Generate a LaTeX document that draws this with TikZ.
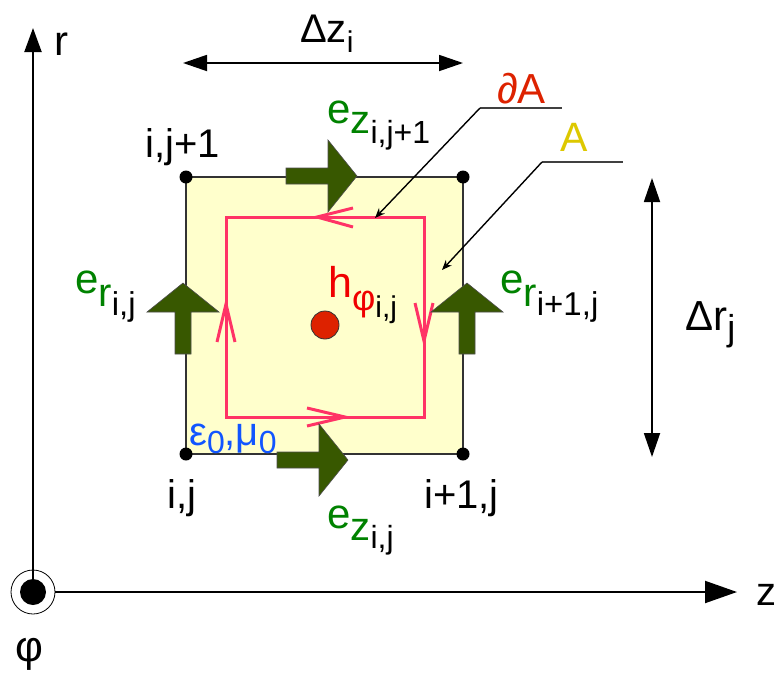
\documentclass[tikz,border=0pt]{standalone}
\usepackage{fontspec}
\setmainfont{Liberation Sans}
\usetikzlibrary{arrows.meta}
\definecolor{gfill}{RGB}{56,88,0}
\definecolor{glab}{RGB}{0,130,0}
\definecolor{loopc}{RGB}{255,51,102}
\definecolor{areay}{RGB}{255,255,204}
\definecolor{dred}{RGB}{221,34,0}
\definecolor{hred}{RGB}{240,0,0}
\definecolor{eblue}{RGB}{17,85,255}
\definecolor{ayel}{RGB}{221,200,0}
\newcommand\fs[1]{\fontsize{#1}{#1}\selectfont}
\newcommand\blockarr[3]{%
  \path[blk, shift={(#1,#2)}, rotate=#3] (0,0) -- (-29,-36) -- (-29,-8) -- (-71,-8) -- (-71,8) -- (-29,8) -- (-29,36) -- cycle;}
\begin{document}
\begin{tikzpicture}[x=1pt,y=-1pt,
  lbl/.style={inner sep=0pt, anchor=base west, font=\fs{40}},
  vtx/.style={circle, fill=black, inner sep=0pt, minimum size=13pt},
  raxis/.style={line width=2pt, -{Triangle[length=24pt,width=17pt]}},
  zaxis/.style={line width=2pt, -{Triangle[length=32pt,width=22pt]}},
  dimarr/.style={line width=1.8pt, {Triangle[length=24pt,width=16pt]}-{Triangle[length=24pt,width=16pt]}},
  loopl/.style={draw=loopc, line width=3pt, line join=miter},
  blk/.style={fill=gfill, draw=black!70, line width=0.6pt},
  leader/.style={line width=1.4pt, -{Stealth[length=10pt,width=8pt]}},
  uline/.style={draw=black!75, line width=1.5pt}
]
\useasboundingbox (0,0) rectangle (776,672);

% cell area
\draw[fill=areay, draw=black!80, line width=1.2pt] (186,177) rectangle (463,454);

% contour dA
\draw[loopl] (226,217) rectangle (424,417);
\draw[loopl] (353,208) -- (317,217) -- (353,227);
\draw[loopl] (217,342) -- (226,304) -- (235,342);
\draw[loopl] (415,303) -- (424,341) -- (433,303);
\draw[loopl] (307,408) -- (345,417) -- (307,426);

% block arrows (e field)
\blockarr{357}{176}{0}
\blockarr{348}{460}{0}
\blockarr{183}{283}{90}
\blockarr{467}{283}{90}

% grid points
\node[vtx] (p00) at (186,454) {};
\node[vtx] (p10) at (463,454) {};
\node[vtx] (p01) at (186,177) {};
\node[vtx] (p11) at (463,177) {};

% h dot
\node[circle, fill=dred, draw=black!80, line width=0.8pt, minimum size=28pt, inner sep=0pt] (hdot) at (325,325) {};

% node labels
\node[lbl] (l01) at (145,157) {i,j+1};
\node[lbl] (l00) at (167,508) {i,j};
\node[lbl] (l10) at (424,508) {i+1,j};

% field labels
\node[lbl, text=glab] (ezt) at (327,123) {\fs{42}e\raisebox{-10pt}{\fs{40}z\raisebox{-10pt}{\fs{32}\color{black}i,j+1}}};
\node[lbl, text=glab] (ezb) at (327,528) {\fs{42}e\raisebox{-12pt}{\fs{40}z\raisebox{-8pt}{\fs{32}\color{black}i,j}}};
\node[lbl, text=glab] (erl) at (75,293) {\fs{42}e\raisebox{-13pt}{\fs{40}r\raisebox{-9pt}{\fs{33}\color{black}i,j}}};
\node[lbl, text=glab] (err) at (500,293) {\fs{42}e\raisebox{-13pt}{\fs{40}r\raisebox{-9pt}{\fs{33}\color{black}i+1,j}}};
\node[lbl, text=hred] (hl) at (328,297) {\fs{43}h\raisebox{-13pt}{\fs{36}φ\raisebox{-7pt}{\fs{30}\color{black}i,j}}};
\node[lbl, text=eblue] (eps) at (189,445) {\fs{40}ε\raisebox{-8pt}{\fs{32}0},μ\raisebox{-8pt}{\fs{32}0}};

% axes
\node[circle, fill=black, minimum size=26pt, inner sep=0pt] (O) at (33,592) {};
\node[circle, draw=black, line width=0.8pt, minimum size=44pt, inner sep=0pt] (Oring) at (33,592) {};
\coordinate (rtip) at (33,28);
\coordinate (ztip) at (737,592);
\draw[raxis] (O.north) -- (rtip);
\draw[zaxis] (Oring.east) -- (ztip);
\node[lbl, font=\fs{42}] (rl) at (54,55) {r};
\node[lbl] (zl) at (756,605) {z};
\node[lbl, font=\fs{43}] (phil) at (15,661) {φ};

% dimensions
\coordinate (dzl) at (183,63);
\coordinate (dzr) at (463,63);
\draw[dimarr] (dzl) -- (dzr);
\node[lbl] (dzlab) at (300,42) {Δz\raisebox{-10pt}{\fs{30}i}};
\coordinate (drt) at (652,178);
\coordinate (drb) at (652,457);
\draw[dimarr] (drt) -- (drb);
\node[lbl, font=\fs{42}] (drlab) at (685,330) {Δr\raisebox{-10pt}{\fs{36}j}};

% leaders
\node[lbl, text=dred, font=\fs{42}] (dAl) at (497,103) {∂A};
\coordinate (dAu1) at (480,108);
\coordinate (dAu2) at (562,108);
\coordinate (dAtip) at (375,218);
\draw[uline] (dAu1) -- (dAu2);
\draw[leader] (dAu1) -- (dAtip);
\node[lbl, text=ayel, font=\fs{41}] (Al) at (560,151) {A};
\coordinate (Au1) at (542,162);
\coordinate (Au2) at (623,162);
\coordinate (Atip) at (442,270);
\draw[uline] (Au1) -- (Au2);
\draw[leader] (Au1) -- (Atip);
\end{tikzpicture}
\end{document}
